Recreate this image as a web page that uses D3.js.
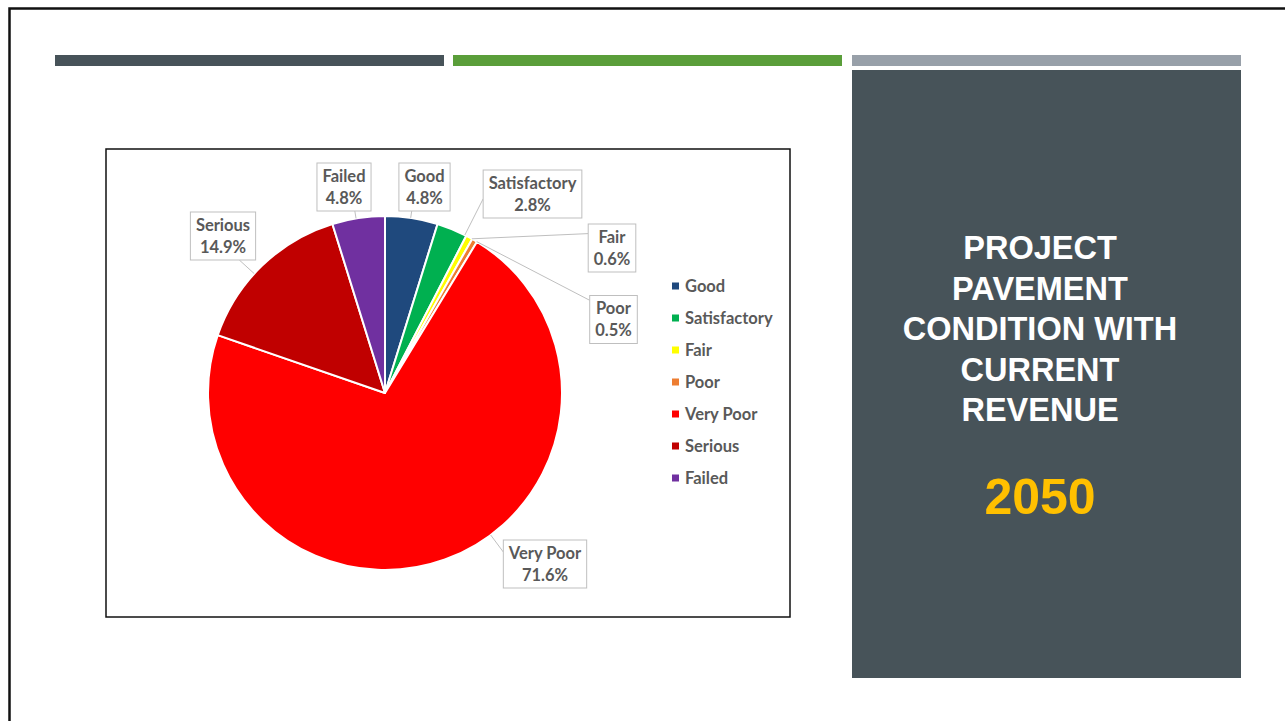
<!DOCTYPE html>
<html>
<head>
<meta charset="utf-8">
<script src="https://cdn.jsdelivr.net/npm/d3@7"></script>
<style>
  html, body { margin: 0; padding: 0; background: #fff; }
  svg { display: block; }
</style>
</head>
<body>
<div id="slide"></div>
<script>
// chart data
const categories = ["Good", "Satisfactory", "Fair", "Poor", "Very Poor", "Serious", "Failed"]
const shares = [4.8, 2.8, 0.6, 0.5, 71.6, 14.9, 4.8]
const sliceColors = ["#1F497D", "#00B050", "#FFFF00", "#ED7D31", "#FF0000", "#C00000", "#7030A0"]
const titleLines = ["PROJECT", "PAVEMENT", "CONDITION WITH", "CURRENT", "REVENUE"]
const yearLabel = "2050"

// callout layout: box centre + where the leader meets the box (fraction of w/h)
const calloutLayout = {
    "Good":         { cx: 424.5, cy: 187, ax: 0.25, ay: 1 },
    "Satisfactory": { cx: 532.5, cy: 194, ax: 0, ay: 0.6 },
    "Fair":         { cx: 612, cy: 248, ax: 0, ay: 0.2 },
    "Poor":         { cx: 613.5, cy: 319.5, ax: 0, ay: 0.1 },
    "Very Poor":    { cx: 545, cy: 564, ax: 0, ay: 0.25 },
    "Serious":      { cx: 223, cy: 236, ax: 0.75, ay: 1 },
    "Failed":       { cx: 344, cy: 187, ax: 0.7, ay: 1 }
}

const labelFont = 'Lato, "Open Sans", sans-serif'

const mainApp = () => {
    const width = 1285
    const height = 721

    const svg = d3.select('#slide').append('svg')
        .attr('width', width)
        .attr('height', height)

    drawSlide(svg)
    drawPie(svg)
    drawLegend(svg)
    drawTitle(svg)
}

const drawSlide = (svg) => {
    // slide border (only top/left visible)
    svg.append('path')
        .attr('d', 'M9.5,721 V8.5 H1285')
        .attr('fill', 'none')
        .attr('stroke', '#111')
        .attr('stroke-width', 2.5)

    const bars = [
        { x: 55, w: 389, c: '#475359' },
        { x: 453, w: 389, c: '#5A9E3A' },
        { x: 852, w: 389, c: '#98A0A9' }
    ]
    svg.append('g').selectAll('rect').data(bars).enter().append('rect')
        .attr('x', d => d.x).attr('y', 55)
        .attr('width', d => d.w).attr('height', 11)
        .attr('fill', d => d.c)

    // dark side panel
    svg.append('rect')
        .attr('x', 852).attr('y', 70)
        .attr('width', 389).attr('height', 608)
        .attr('fill', '#475359')

    // chart frame
    svg.append('rect')
        .attr('x', 106).attr('y', 149)
        .attr('width', 684).attr('height', 468)
        .attr('fill', '#fff')
        .attr('stroke', '#111')
        .attr('stroke-width', 1.5)
}

const drawPie = (svg) => {
    const cx = 385, cy = 393, r = 177
    const details = categories.map((c, i) => ({ category: c, value: shares[i] }))

    const colors = d3.scaleOrdinal().domain(categories).range(sliceColors)
    const data = d3.pie().sort(null).value(d => d.value)(details)
    const segments = d3.arc().innerRadius(0).outerRadius(r)

    const g = svg.append('g').attr('transform', `translate(${cx},${cy})`)
    g.selectAll('path').data(data).enter().append('path')
        .attr('d', segments)
        .attr('fill', d => colors(d.data.category))
        .attr('stroke', '#fff')
        .attr('stroke-width', 2)
        .attr('stroke-linejoin', 'round')

    const fmt = d3.format('.1f')
    const labels = svg.append('g')
        .attr('font-family', labelFont)
        .attr('font-weight', 'bold')
        .attr('font-size', '16.5px')
        .attr('fill', '#595959')

    data.forEach(d => {
        const lay = calloutLayout[d.data.category]
        const lines = [d.data.category, fmt(d.data.value) + '%']
        const grp = labels.append('g')
        const texts = grp.selectAll('text').data(lines).enter().append('text')
            .attr('x', lay.cx)
            .attr('y', (t, i) => lay.cy - 11 + i * 22)
            .attr('dy', '0.35em')
            .attr('text-anchor', 'middle')
            .text(t => t)
        let tw = 0
        texts.each(function () { tw = Math.max(tw, this.getComputedTextLength()) })
        const bw = tw + 11, bh = 48
        const bx = lay.cx - bw / 2, by = lay.cy - bh / 2
        grp.insert('rect', 'text')
            .attr('x', bx).attr('y', by)
            .attr('width', bw).attr('height', bh)
            .attr('fill', '#fff')
            .attr('stroke', '#BFBFBF')
            .attr('stroke-width', 1)

        // leader line: box attach point -> nearest edge point of slice
        const px = bx + lay.ax * bw, py = by + lay.ay * bh
        let a = Math.atan2(px - cx, -(py - cy))
        if (a < 0) a += 2 * Math.PI
        a = Math.max(d.startAngle + 0.002, Math.min(d.endAngle - 0.002, a))
        const ex = cx + r * Math.sin(a), ey = cy - r * Math.cos(a)
        labels.insert('line', 'g')
            .attr('x1', ex).attr('y1', ey)
            .attr('x2', px).attr('y2', py)
            .attr('stroke', '#BFBFBF')
            .attr('stroke-width', 1)
    })
}

const drawLegend = (svg) => {
    const y = d3.scalePoint().domain(categories).range([286, 478])
    const colors = d3.scaleOrdinal().domain(categories).range(sliceColors)
    const items = svg.append('g').selectAll('g').data(categories).enter().append('g')
        .attr('transform', d => `translate(672,${y(d)})`)
    items.append('rect')
        .attr('x', 0).attr('y', -3.5)
        .attr('width', 7).attr('height', 7)
        .attr('fill', d => colors(d))
    items.append('text')
        .attr('x', 13).attr('dy', '0.35em')
        .attr('font-family', labelFont)
        .attr('font-weight', 'bold')
        .attr('font-size', '16.5px')
        .attr('fill', '#595959')
        .text(d => d)
}

const drawTitle = (svg) => {
    const cx = 1040
    svg.append('g').selectAll('text').data(titleLines).enter().append('text')
        .attr('x', cx)
        .attr('y', (d, i) => 248 + i * 40.5)
        .attr('dy', '0.35em')
        .attr('text-anchor', 'middle')
        .attr('font-family', '"Liberation Sans", Arial, sans-serif')
        .attr('font-weight', 'bold')
        .attr('font-size', '32.5px')
        .attr('fill', '#fff')
        .text(d => d)

    svg.append('text')
        .attr('x', cx).attr('y', 496)
        .attr('dy', '0.35em')
        .attr('text-anchor', 'middle')
        .attr('font-family', '"Liberation Sans", Arial, sans-serif')
        .attr('font-weight', 'bold')
        .attr('font-size', '50px')
        .attr('fill', '#FFC000')
        .text(yearLabel)
}

mainApp();
</script>
</body>
</html>
